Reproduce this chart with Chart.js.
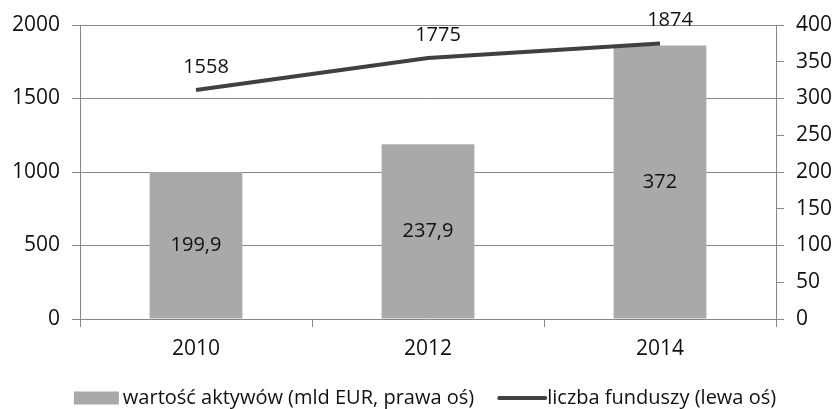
<!DOCTYPE html>
<html>
<head>
<meta charset="utf-8">
<script src="https://cdn.jsdelivr.net/npm/chart.js@4"></script>
<style>
  html, body { margin: 0; padding: 0; background: #fff; }
  #wrap { width: 832px; height: 409px; }
</style>
</head>
<body>
<div id="wrap"><canvas id="myChart" width="832" height="409"></canvas></div>
<script>
// data
let years = ['2010', '2012', '2014']
let aktywa = [199.9, 237.9, 372]      // bars, right axis (mld EUR)
let fundusze = [1558, 1775, 1874]     // line, left axis
let barLabel = 'wartość aktywów (mld EUR, prawa oś)'
let lineLabel = 'liczba funduszy (lewa oś)'

let gridColor = '#868686'
let textColor = '#111'
let font = { family: 'Open Sans', size: 21 }

// value labels: inside bars (centre) and above the line points
const valueLabels = {
    id: 'valueLabels',
    afterDatasetsDraw(chart) {
        const ctx = chart.ctx
        ctx.save()
        ctx.font = '20px "Open Sans"'
        ctx.fillStyle = textColor
        ctx.textAlign = 'center'
        ctx.textBaseline = 'middle'
        chart.data.datasets.forEach((ds, i) => {
            const meta = chart.getDatasetMeta(i)
            meta.data.forEach((el, j) => {
                let txt = String(ds.data[j]).replace('.', ',')
                if (ds.type === 'bar') {
                    ctx.fillText(txt, el.x, (el.y + el.base) / 2)
                } else {
                    ctx.fillText(txt, el.x + 10, el.y - 23)
                }
            })
        })
        ctx.restore()
    }
}

// legend drawn by hand so box / line sizes can differ
const bottomLegend = {
    id: 'bottomLegend',
    afterDraw(chart) {
        const ctx = chart.ctx
        const ds = chart.data.datasets
        ctx.save()
        ctx.font = '20px "Open Sans"'
        ctx.textBaseline = 'middle'
        ctx.textAlign = 'left'
        let w1 = ctx.measureText(ds[0].label).width
        let w2 = ctx.measureText(ds[1].label).width
        let total = 45 + 4 + w1 + 25 + 46 + 2 + w2
        let x = (chart.width - total) / 2 + 9
        let y = 398
        ctx.fillStyle = ds[0].backgroundColor
        ctx.fillRect(x, y - 6.5, 45, 13)
        x += 49
        ctx.fillStyle = textColor
        ctx.fillText(ds[0].label, x, y)
        x += w1 + 25
        ctx.strokeStyle = ds[1].borderColor
        ctx.lineWidth = 4
        ctx.lineCap = 'round'
        ctx.beginPath()
        ctx.moveTo(x, y)
        ctx.lineTo(x + 46, y)
        ctx.stroke()
        x += 48
        ctx.fillText(ds[1].label, x, y)
        ctx.restore()
    }
}

const masspopChart = new Chart(document.getElementById('myChart'), {
    data: {
        labels: [...years],
        datasets: [{
            type: 'bar',
            label: barLabel,
            data: [...aktywa],
            yAxisID: 'y1',
            backgroundColor: '#a9a9a9',
            categoryPercentage: 0.4,
            barPercentage: 1,
            order: 1
        }, {
            type: 'line',
            label: lineLabel,
            data: [...fundusze],
            yAxisID: 'y',
            borderColor: '#404040',
            backgroundColor: '#404040',
            borderWidth: 4,
            pointRadius: 0,
            tension: 0,
            order: 0
        }]
    },
    options: {
        responsive: false,
        animation: false,
        layout: { padding: { top: 25, left: 0, right: 0, bottom: 44 } },
        plugins: {
            tooltip: { enabled: false },
            legend: { display: false }
        },
        scales: {
            x: {
                offset: true,
                grid: { offset: true, drawOnChartArea: false, drawTicks: true, tickLength: 8, color: gridColor },
                border: { color: gridColor },
                ticks: { color: textColor, font: font, padding: 9 },
                afterFit(scale) { scale.height = 46 }
            },
            y: {
                position: 'left',
                min: 0,
                max: 2000,
                grid: { color: gridColor, tickLength: 8 },
                border: { color: gridColor },
                ticks: { stepSize: 500, color: textColor, font: font, padding: 12, callback: (v) => String(v) },
                afterFit(scale) { scale.width = 80 }
            },
            y1: {
                position: 'right',
                min: 0,
                max: 400,
                grid: { drawOnChartArea: false, color: gridColor, tickLength: 8 },
                border: { color: gridColor },
                ticks: { stepSize: 50, color: textColor, font: font, padding: 12, callback: (v) => String(v) },
                afterFit(scale) { scale.width = 56 }
            }
        }
    },
    plugins: [valueLabels, bottomLegend]
})
</script>
</body>
</html>
